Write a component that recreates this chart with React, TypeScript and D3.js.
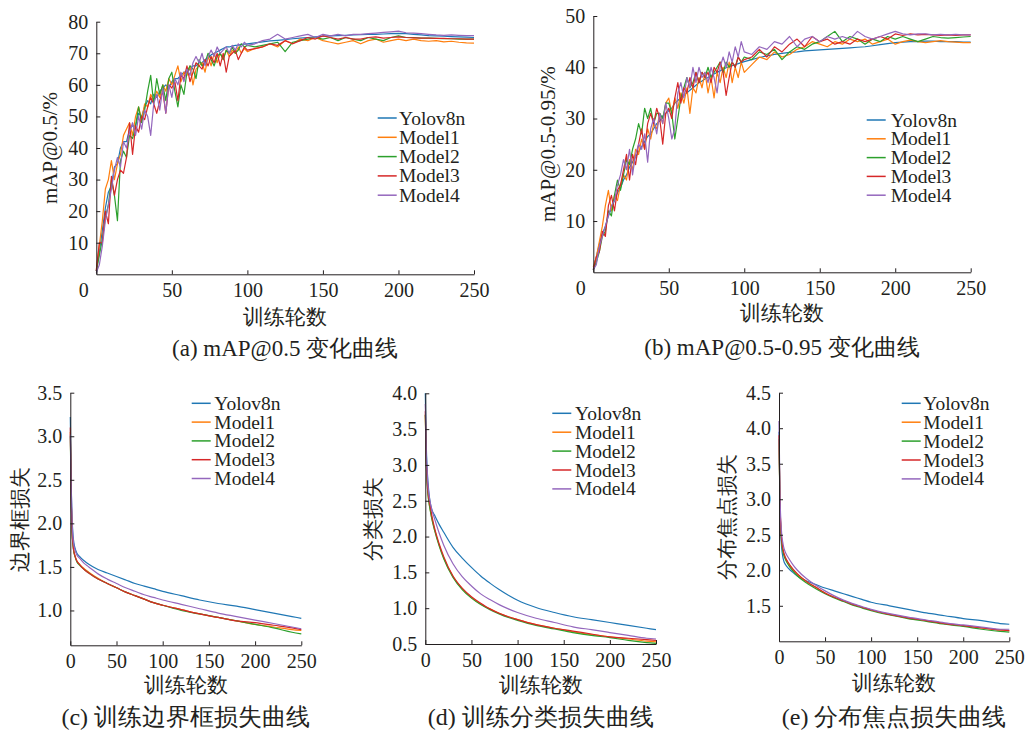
import React, { useEffect, useRef } from 'react';
import * as d3 from 'd3';

const seriesNames = ['Yolov8n', 'Model1', 'Model2', 'Model3', 'Model4'];
const seriesColors = ['#1f77b4', '#ff7f0e', '#2ca02c', '#d62728', '#9467bd'];

// epochs sampled for the mAP curves and for the (smooth) loss curves
const mapEpochs = d3.range(0, 101, 2).concat(d3.range(105, 251, 5));
const lossEpochs = [0, 1, 2, 3, 4, 5, 7, 10, 15, 20, 30, 40, 50, 60, 70, 80, 90, 100, 120, 140, 160, 180, 200, 220, 240, 250];
const xTicks = [0, 50, 100, 150, 200, 250];

// (a) mAP@0.5
const map50Yolo = [1, 7, 14, 21, 26, 28, 34, 35, 40, 42, 42, 46, 47, 47, 51, 50, 53, 55, 54, 57, 56, 58, 59, 60, 59, 61, 62, 62, 63, 64, 64, 65, 66, 66, 67, 67, 68, 68.5, 69.5, 70, 70.5, 71, 71.5, 72, 72, 72.3, 72.5, 72.6, 72.8, 72.9, 73.0,
  73.3, 73.6, 73.9, 74.1, 74.3, 74.6, 74.8, 75.0, 75.2, 75.4, 75.5, 75.6, 75.7, 75.8, 75.9, 76.0, 76.0, 76.1, 76.2, 76.3, 76.2, 76.0, 75.8, 75.6, 75.5, 75.4, 75.3, 75.2, 75.1, 75.0];
const map50M1 = [1.5, 9, 17, 27, 30, 36, 30, 35, 38, 44, 46, 48, 44, 50, 53, 49, 54, 53, 57, 55, 58, 56, 60, 58, 62, 60, 63, 66, 61, 64, 63, 66, 60, 65, 66, 67, 64, 69, 66, 70, 67, 70, 68, 71, 69, 71, 70, 72, 70, 71.5, 70.5,
  71.5, 72, 73, 72, 74, 73, 74.5, 74, 75, 74, 73.5, 73, 73.5, 74, 73, 74, 74.5, 73.5, 74, 74.5, 74, 74.5, 74, 73.8, 74, 73.6, 73.8, 73.5, 73.3, 73.2];
const map50M2 = [1, 6, 11, 18, 22, 30, 25, 17, 36, 39, 37, 44, 43, 47, 53, 48, 52, 58, 63, 54, 62, 57, 60, 55, 62, 64, 58, 53, 60, 57, 64, 66, 65, 62, 68, 66, 67, 70, 68, 66, 69, 70, 68, 71, 70, 72, 70, 71, 73, 72, 72.5,
  72, 72.5, 73, 73.5, 70.5, 73.5, 74, 74.5, 75, 74.5, 75, 74, 75, 74.5, 74, 75, 74.5, 74, 75, 75.5, 75, 75, 74.8, 74.8, 74.7, 74.6, 74.6, 74.5, 74.5, 74.5];
const map50M3 = [1, 10, 10, 20, 16, 31, 25, 30, 33, 32, 37, 48, 38, 47, 45, 50, 49, 53, 56, 54, 51, 55, 58, 51, 60, 59, 61, 55, 63, 62, 66, 61, 64, 67, 66, 65, 68, 66, 69, 67, 70, 66, 70, 64, 69, 70, 71, 68, 70, 72, 71,
  71.5, 72, 73, 72.5, 74, 73, 74, 75, 74.5, 75.5, 75, 74.5, 75, 74.5, 74.5, 75, 75.2, 74.8, 75, 75.2, 75, 74.9, 74.8, 74.8, 74.7, 74.7, 74.6, 74.6, 74.5, 74.5];
const map50M4 = [0.5, 3, 9, 17, 22, 27, 33, 37, 34, 42, 40, 45, 48, 44, 50, 46, 52, 50, 44, 54, 57, 52, 59, 51, 60, 56, 62, 60, 64, 61, 65, 63, 67, 69, 67, 70, 66, 69, 71, 69, 72, 70, 71, 72, 70, 72.5, 71, 73, 72, 73.5, 72.5,
  73, 74, 74.5, 76, 74.5, 75, 75.5, 76, 75, 76, 75.5, 76, 75.5, 76, 76, 76.2, 76.4, 76.6, 76.8, 77, 76.5, 76.4, 76.2, 76, 75.8, 75.7, 75.8, 75.7, 75.6, 75.6];

// (b) mAP@0.5-0.95
const mapYolo = [0.5, 3, 5.5, 7.5, 9, 11, 12.5, 14, 15.5, 16.5, 18, 19, 20.5, 21.5, 22.5, 23.5, 24.5, 25.5, 26.5, 27, 28, 29, 29.5, 30.5, 31, 31.5, 32, 33, 33.5, 34, 34.5, 35, 35.5, 36, 36.5, 37, 37.3, 37.7, 38, 38.4, 38.7, 39, 39.3, 39.6, 39.9, 40.1, 40.3, 40.5, 40.7, 40.9, 41.1,
  41.5, 41.9, 42.2, 42.5, 42.7, 42.9, 43.0, 43.2, 43.3, 43.4, 43.5, 43.6, 43.7, 43.8, 43.9, 44.0, 44.2, 44.4, 44.6, 44.8, 44.9, 45, 45, 45.1, 45.1, 45, 45, 45, 44.9, 44.9];
const mapM1 = [1, 3, 6, 9, 13, 16, 12, 15, 14, 17, 19, 18, 22, 20, 24, 23, 26, 24, 28, 26, 29, 28, 31, 29, 33, 34, 31, 34, 32, 35, 33, 36, 31, 36, 35, 38, 36, 39, 35, 38, 34, 39, 37, 40, 38, 41, 37, 40, 38, 41, 39,
  40.5, 42, 41.5, 43, 42, 42.5, 43.5, 44, 45, 44.5, 44, 45, 44.5, 45.5, 45, 45.5, 44.5, 45, 45.5, 44.5, 45, 45.3, 45, 44.8, 45, 45.2, 45, 44.9, 44.8, 44.8];
const mapM2 = [0.5, 2, 4, 7, 8, 12, 11, 15, 18, 16, 19, 22, 21, 24, 26, 29, 27, 32, 30, 32, 29, 31, 31, 30, 33, 33, 31, 26, 30, 34, 36, 38, 36, 37, 39, 37, 39, 38, 40, 38, 39, 40, 41, 39, 41, 40, 41, 40, 42, 41, 42,
  41.5, 43, 42.5, 43.5, 41.5, 43, 44, 43.5, 44.5, 45, 46, 47, 45, 46, 45.5, 44.5, 45.5, 45, 46, 45.5, 46, 45.5, 45, 45.5, 46, 45.8, 45.7, 45.8, 45.9, 46];
const mapM3 = [0.5, 3, 4, 8, 7, 13, 15, 12, 16, 17, 20, 23, 18, 23, 21, 25, 28, 24, 29, 31, 29, 32, 30, 25, 31, 32, 30, 34, 37, 33, 36, 35, 38, 36, 39, 37, 39, 38, 39, 37, 40, 39, 41, 39, 34.5, 38, 41, 40, 42, 41, 41.5,
  42, 43.5, 42, 44, 43, 44.5, 45.5, 44, 46, 45, 45.5, 44.5, 45, 44.5, 45.5, 45, 45.5, 46, 45.5, 46.5, 46.2, 46.5, 46.3, 46.4, 46.3, 46.2, 46.3, 46.2, 46.3, 46.3];
const mapM4 = [0.5, 1.5, 5, 7, 9, 11, 13, 14, 17, 19, 22, 20, 24, 19, 23, 25, 24, 27, 21.5, 28, 30, 27, 31, 29, 33, 30, 26, 28, 35, 37, 34, 38, 36, 40, 37, 40, 38, 39, 37, 40, 38, 35, 40, 42, 40, 43, 41, 44, 42, 45, 43,
  42.5, 44, 43.5, 45, 44.5, 46, 44, 45.5, 46, 45, 46, 45.5, 46, 45.5, 47, 46, 45.5, 46, 46.5, 47, 46.5, 46.3, 46.5, 46.5, 46.3, 46.4, 46.3, 46.4, 46.3, 46.3];

// (c) box loss
const boxYolo = [3.22, 2.45, 2.05, 1.86, 1.77, 1.72, 1.66, 1.62, 1.57, 1.53, 1.47, 1.43, 1.39, 1.35, 1.31, 1.28, 1.25, 1.22, 1.17, 1.12, 1.08, 1.05, 1.01, 0.97, 0.93, 0.91];
const boxM1 = [3.05, 2.3, 1.9, 1.75, 1.67, 1.63, 1.57, 1.53, 1.48, 1.44, 1.37, 1.31, 1.26, 1.21, 1.17, 1.13, 1.09, 1.06, 1.01, 0.96, 0.92, 0.88, 0.84, 0.81, 0.78, 0.77];
const boxM2 = [3.0, 2.28, 1.88, 1.74, 1.66, 1.62, 1.56, 1.52, 1.47, 1.43, 1.36, 1.31, 1.26, 1.21, 1.17, 1.13, 1.09, 1.06, 1.0, 0.96, 0.92, 0.88, 0.84, 0.8, 0.75, 0.73];
const boxM3 = [3.1, 2.3, 1.9, 1.75, 1.67, 1.63, 1.57, 1.53, 1.47, 1.43, 1.36, 1.31, 1.26, 1.21, 1.17, 1.13, 1.09, 1.06, 1.01, 0.96, 0.92, 0.88, 0.86, 0.83, 0.8, 0.78];
const boxM4 = [3.02, 2.4, 2.0, 1.82, 1.74, 1.7, 1.64, 1.6, 1.54, 1.5, 1.42, 1.36, 1.31, 1.26, 1.22, 1.18, 1.15, 1.12, 1.07, 1.02, 0.97, 0.93, 0.89, 0.85, 0.81, 0.79];

// (d) cls loss
const clsYolo = [4.0, 3.3, 2.95, 2.75, 2.6, 2.5, 2.38, 2.3, 2.17, 2.06, 1.85, 1.7, 1.57, 1.45, 1.35, 1.26, 1.18, 1.11, 1.01, 0.94, 0.88, 0.84, 0.8, 0.76, 0.72, 0.7];
const clsM1 = [3.7, 3.05, 2.75, 2.58, 2.48, 2.4, 2.26, 2.1, 1.88, 1.7, 1.44, 1.27, 1.15, 1.06, 0.99, 0.93, 0.88, 0.84, 0.77, 0.72, 0.67, 0.63, 0.6, 0.57, 0.54, 0.53];
const clsM2 = [3.7, 3.05, 2.75, 2.57, 2.47, 2.39, 2.25, 2.09, 1.87, 1.69, 1.43, 1.26, 1.14, 1.05, 0.98, 0.92, 0.87, 0.83, 0.76, 0.71, 0.66, 0.62, 0.59, 0.55, 0.52, 0.51];
const clsM3 = [3.75, 3.1, 2.8, 2.62, 2.52, 2.45, 2.3, 2.12, 1.9, 1.72, 1.45, 1.28, 1.16, 1.07, 0.99, 0.93, 0.88, 0.84, 0.77, 0.72, 0.68, 0.64, 0.6, 0.58, 0.56, 0.55];
const clsM4 = [3.85, 3.2, 2.9, 2.7, 2.58, 2.5, 2.38, 2.25, 2.05, 1.88, 1.62, 1.44, 1.31, 1.2, 1.12, 1.05, 0.99, 0.94, 0.86, 0.8, 0.74, 0.7, 0.66, 0.62, 0.58, 0.57];

// (e) dfl loss
const dflYolo = [3.95, 3.0, 2.5, 2.3, 2.2, 2.14, 2.08, 2.03, 1.97, 1.92, 1.85, 1.8, 1.75, 1.71, 1.67, 1.63, 1.59, 1.55, 1.5, 1.45, 1.4, 1.36, 1.32, 1.29, 1.25, 1.24];
const dflM1 = [3.9, 3.0, 2.6, 2.4, 2.3, 2.24, 2.17, 2.1, 2.01, 1.94, 1.84, 1.76, 1.68, 1.62, 1.57, 1.52, 1.48, 1.44, 1.38, 1.33, 1.29, 1.25, 1.22, 1.19, 1.16, 1.15];
const dflM2 = [3.85, 2.95, 2.55, 2.38, 2.28, 2.22, 2.15, 2.08, 1.99, 1.92, 1.82, 1.74, 1.67, 1.61, 1.56, 1.51, 1.47, 1.43, 1.37, 1.32, 1.28, 1.24, 1.21, 1.17, 1.14, 1.13];
const dflM3 = [3.9, 3.0, 2.6, 2.42, 2.32, 2.26, 2.18, 2.11, 2.02, 1.95, 1.84, 1.76, 1.68, 1.62, 1.57, 1.52, 1.48, 1.44, 1.38, 1.33, 1.29, 1.25, 1.22, 1.19, 1.16, 1.15];
const dflM4 = [4.1, 3.1, 2.7, 2.5, 2.4, 2.33, 2.25, 2.18, 2.08, 2.0, 1.88, 1.79, 1.71, 1.64, 1.58, 1.53, 1.49, 1.45, 1.39, 1.34, 1.3, 1.26, 1.23, 1.2, 1.17, 1.17];

const ink = '#231f20';
const font = 'Liberation Serif, DejaVu Serif, serif';

const panels = [
  {
    id: 'a', left: 96.3, right: 474, top: 21.7, bottom: 274.3, yDomain: [0, 80], yTicks: [10, 20, 30, 40, 50, 60, 70, 80], yFmt: d3.format('d'),
    zeroShift: -13, smooth: false, epochs: mapEpochs, series: [map50Yolo, map50M1, map50M2, map50M3, map50M4],
    yLabel: 'mAP@0.5/%', yLabelX: 50, xTitleY: 317, caption: '(a) mAP@0.5 变化曲线', captionY: 348, captionSize: 23,
    legend: { lx: 377.7, tx: 399, y: 118, dy: 19.3 },
  },
  {
    id: 'b', left: 593.3, right: 970.7, top: 16, bottom: 272.3, yDomain: [0, 50], yTicks: [10, 20, 30, 40, 50], yFmt: d3.format('d'),
    zeroShift: -13, smooth: false, epochs: mapEpochs, series: [mapYolo, mapM1, mapM2, mapM3, mapM4],
    yLabel: 'mAP@0.5-0.95/%', yLabelX: 548, xTitleY: 313, caption: '(b) mAP@0.5-0.95 变化曲线', captionY: 347, captionSize: 23,
    legend: { lx: 866.7, tx: 890.7, y: 120, dy: 18.8 },
  },
  {
    id: 'c', left: 70.3, right: 301.3, top: 392.7, bottom: 645.3, yDomain: [0.6, 3.5], yTicks: [1.0, 1.5, 2.0, 2.5, 3.0, 3.5], yFmt: d3.format('.1f'),
    zeroShift: 0, smooth: true, epochs: lossEpochs, series: [boxYolo, boxM1, boxM2, boxM3, boxM4],
    yLabel: '边界框损失', yLabelX: 20, xTitleY: 685, caption: '(c) 训练边界框损失曲线', captionY: 716.7, captionSize: 24,
    legend: { lx: 191.7, tx: 214.3, y: 403.3, dy: 18.8 },
  },
  {
    id: 'd', left: 425.3, right: 656, top: 393.3, bottom: 644, yDomain: [0.5, 4.0], yTicks: [0.5, 1.0, 1.5, 2.0, 2.5, 3.0, 3.5, 4.0], yFmt: d3.format('.1f'),
    zeroShift: 0, smooth: true, epochs: lossEpochs, series: [clsYolo, clsM1, clsM2, clsM3, clsM4],
    yLabel: '分类损失', yLabelX: 373.3, xTitleY: 685, caption: '(d) 训练分类损失曲线', captionY: 716.7, captionSize: 24,
    legend: { lx: 552.3, tx: 575, y: 413.3, dy: 18.9 },
  },
  {
    id: 'e', left: 779, right: 1009.3, top: 392.7, bottom: 641.3, yDomain: [1.0, 4.5], yTicks: [1.5, 2.0, 2.5, 3.0, 3.5, 4.0, 4.5], yFmt: d3.format('.1f'),
    zeroShift: 0, smooth: true, epochs: lossEpochs, series: [dflYolo, dflM1, dflM2, dflM3, dflM4],
    yLabel: '分布焦点损失', yLabelX: 726.7, xTitleY: 683, caption: '(e) 分布焦点损失曲线', captionY: 716.7, captionSize: 24,
    legend: { lx: 901.7, tx: 923.3, y: 403.3, dy: 18.9 },
  },
];

const Panel = ({ cfg }: { cfg: any }) => {
  const ref = useRef<SVGGElement>(null);

  useEffect(() => {
    const g = d3.select(ref.current);
    g.selectAll('*').remove();

    const x = d3.scaleLinear().domain([0, 250]).range([cfg.left, cfg.right]);
    const y = d3.scaleLinear().domain(cfg.yDomain).range([cfg.bottom, cfg.top]);
    const line = d3.line<[number, number]>().x(d => x(d[0])).y(d => y(d[1]));
    if (cfg.smooth) line.curve(d3.curveMonotoneX);

    // curves
    cfg.series.forEach((vals: number[], i: number) => {
      g.append('path')
        .datum(cfg.epochs.map((e: number, j: number) => [e, vals[j]]))
        .attr('d', line)
        .attr('fill', 'none')
        .attr('stroke', seriesColors[i])
        .attr('stroke-width', 1.2)
        .attr('stroke-linejoin', 'round');
    });

    // axes, ticks pointing inward
    const xa = g.append('g')
      .attr('transform', `translate(0,${cfg.bottom})`)
      .call(d3.axisBottom(x).tickValues(xTicks).tickSizeInner(-4).tickSizeOuter(0).tickPadding(9).tickFormat(d3.format('d')));
    xa.selectAll('.tick text').filter((d: any) => d === 0).attr('dx', cfg.zeroShift);

    const ya = g.append('g')
      .attr('transform', `translate(${cfg.left},0)`)
      .call(d3.axisLeft(y).tickValues(cfg.yTicks).tickSizeInner(-4).tickSizeOuter(0).tickPadding(8).tickFormat(cfg.yFmt));

    [xa, ya].forEach(a => {
      a.attr('font-family', null).attr('font-size', null);
      a.selectAll('path, line').attr('stroke', ink);
      a.selectAll('text').attr('fill', ink).style('font-family', font).style('font-size', '20px');
    });

    const midX = (cfg.left + cfg.right) / 2;
    const midY = (cfg.top + cfg.bottom) / 2;

    const label = (sel: any, size: number) =>
      sel.attr('text-anchor', 'middle').attr('dominant-baseline', 'central')
        .style('font-family', font).style('font-size', `${size}px`).attr('fill', ink);

    label(g.append('text')
      .attr('transform', `translate(${cfg.yLabelX},${midY}) rotate(-90)`), 21)
      .text(cfg.yLabel);

    label(g.append('text').attr('x', midX).attr('y', cfg.xTitleY), 21)
      .text('训练轮数');

    label(g.append('text').attr('x', midX).attr('y', cfg.captionY), cfg.captionSize)
      .text(cfg.caption);

    // legend
    const lg = cfg.legend;
    seriesNames.forEach((name, i) => {
      const yy = lg.y + i * lg.dy;
      g.append('line')
        .attr('x1', lg.lx).attr('x2', lg.lx + 19).attr('y1', yy).attr('y2', yy)
        .attr('stroke', seriesColors[i]).attr('stroke-width', 1.5);
      g.append('text')
        .attr('x', lg.tx).attr('y', yy)
        .attr('dominant-baseline', 'central')
        .style('font-family', font).style('font-size', '19.5px').attr('fill', ink)
        .text(name);
    });
  }, [cfg]);

  return <g ref={ref} />;
};

export default function App() {
  return (
    <svg width={1027} height={731} style={{ position: 'absolute', left: 0, top: 0, background: '#fff' }}>
      {panels.map(p => <Panel key={p.id} cfg={p} />)}
    </svg>
  );
}
